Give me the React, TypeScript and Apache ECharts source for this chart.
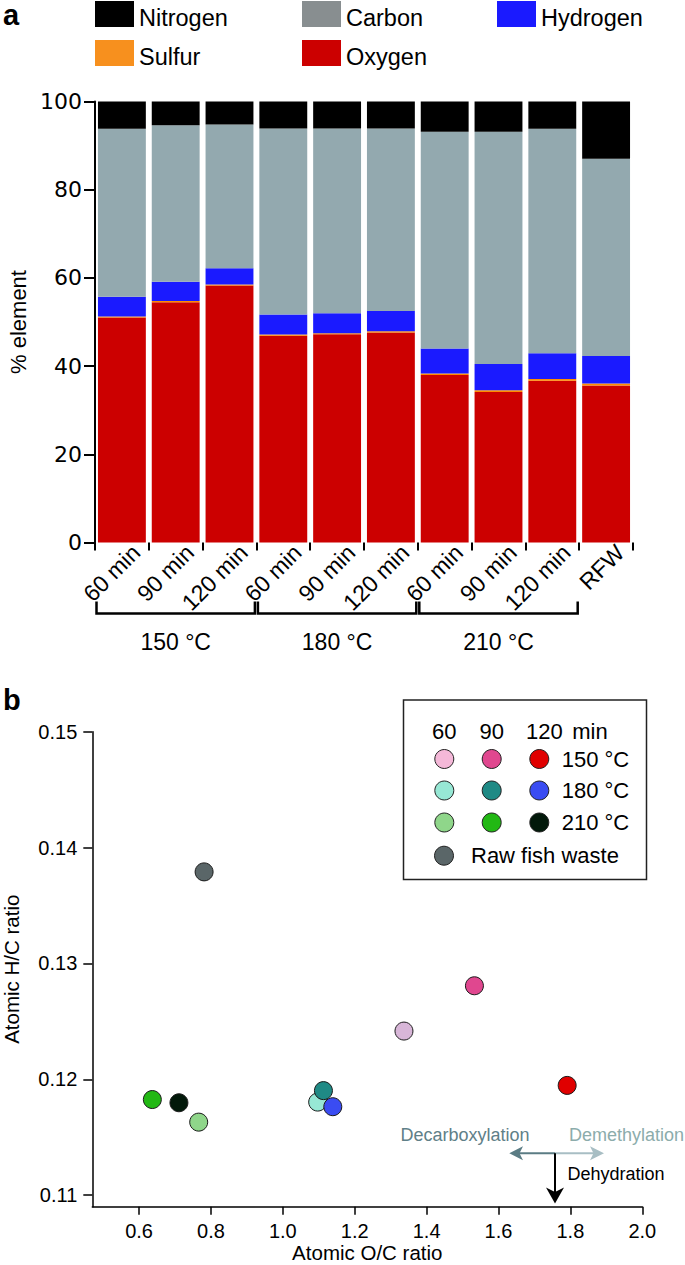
import React, { useEffect, useRef } from 'react';
import * as echarts from 'echarts';

// ---------- Panel a data ----------
const categories = ['60 min', '90 min', '120 min', '60 min', '90 min', '120 min', '60 min', '90 min', '120 min', 'RFW'];
const tempGroups = ['150 °C', '180 °C', '210 °C'];
const groupStart = [0, 3, 6];
const groupEnd = [2, 5, 8];
const oxygen = [51.0, 54.5, 58.3, 46.9, 47.2, 47.6, 38.0, 34.1, 36.7, 35.6];
const sulfur = [0.25, 0.25, 0.2, 0.25, 0.25, 0.3, 0.35, 0.4, 0.4, 0.45];
const hydrogen = [4.45, 4.35, 3.7, 4.55, 4.55, 4.6, 5.65, 6.0, 5.8, 6.25];
const carbon = [38.1, 35.5, 32.6, 42.2, 41.9, 41.4, 49.15, 52.65, 50.9, 44.7];
const nitrogen = [6.2, 5.4, 5.2, 6.1, 6.1, 6.1, 6.85, 6.85, 6.2, 13.0];

// ---------- Panel b data ----------
const sampleNames = ['150 °C 60 min', '150 °C 90 min', '150 °C 120 min', '180 °C 60 min', '180 °C 90 min', '180 °C 120 min', '210 °C 60 min', '210 °C 90 min', '210 °C 120 min', 'Raw fish waste'];
const ocRatio = [1.337, 1.533, 1.791, 1.097, 1.113, 1.139, 0.766, 0.637, 0.711, 0.781];
const hcRatio = [0.12416, 0.12807, 0.11947, 0.11803, 0.11902, 0.11763, 0.1163, 0.11825, 0.11797, 0.1379];
const sampleColors = ['#d8b6d8', '#e0478f', '#e00000', '#97e8d5', '#1f8a85', '#3a4cf2', '#8fd68a', '#22b814', '#02190a', '#5a6668'];
const legendColors = ['#f4b8d8', '#e0478f', '#e00000', '#97e8d5', '#1f8a85', '#3a4cf2', '#8fd68a', '#22b814', '#02190a', '#5a6668'];
const xTicksScatter = [0.6, 0.8, 1.0, 1.2, 1.4, 1.6, 1.8, 2.0];
const yTicksScatter = [0.11, 0.12, 0.13, 0.14, 0.15];
const legendTimes = ['60', '90', '120', 'min'];
const legendTemps = ['150 °C', '180 °C', '210 °C'];

const FONT = "'Liberation Sans', Arial, sans-serif";

function txt(text: string, x: number, y: number, opts: any = {}) {
  const align = opts.align || 'left';
  return {
    type: 'text',
    silent: true,
    style: {
      text,
      x,
      y,
      fill: opts.fill || '#000',
      fontSize: opts.fontSize || 22,
      fontFamily: FONT,
      fontWeight: opts.fontWeight || 'normal',
      align,
      textAlign: align,
      verticalAlign: 'middle',
      textVerticalAlign: 'middle',
    },
  };
}

export default function App() {
  const ref = useRef<HTMLDivElement>(null);
  useEffect(() => {
    if (!ref.current) return;
    const chart = echarts.init(ref.current, undefined, { renderer: 'svg' });

    const graphics: any[] = [];
    graphics.push(txt('a', 3, 15, { fontSize: 29, fontWeight: 'bold' }));
    graphics.push(txt('b', 3, 700, { fontSize: 29, fontWeight: 'bold' }));

    // scatter legend box
    graphics.push({
      type: 'rect', silent: true,
      shape: { x: 403.5, y: 700, width: 243, height: 179.5 },
      style: { fill: '#fff', stroke: '#222', lineWidth: 1.5 },
    });
    const colX = [444.3, 491.7, 539.3];
    const headX = [444.3, 491.7, 544.3, 590];
    legendTimes.forEach((t, i) => graphics.push(txt(t, headX[i], 731, { align: 'center' })));
    const rowY = [759, 790.5, 822.5];
    legendTemps.forEach((t, r) => {
      for (let c = 0; c < 3; c++) {
        graphics.push({
          type: 'circle', silent: true,
          shape: { cx: colX[c], cy: rowY[r], r: 9.5 },
          style: { fill: legendColors[r * 3 + c], stroke: '#222', lineWidth: 1 },
        });
      }
      graphics.push(txt(t, 561.7, rowY[r]));
    });
    graphics.push({
      type: 'circle', silent: true,
      shape: { cx: 444, cy: 855.7, r: 9.5 },
      style: { fill: legendColors[9], stroke: '#222', lineWidth: 1 },
    });
    graphics.push(txt(sampleNames[9], 471, 855.7));

    // reaction arrows
    const ay = 1153.3, ax = 555;
    graphics.push({ type: 'line', silent: true, shape: { x1: ax, y1: ay, x2: 519, y2: ay }, style: { stroke: '#5b7c84', lineWidth: 2 } });
    graphics.push({ type: 'polygon', silent: true, shape: { points: [[509.3, ay], [523, ay - 7], [519.5, ay], [523, ay + 7]] }, style: { fill: '#5b7c84' } });
    graphics.push({ type: 'line', silent: true, shape: { x1: ax, y1: ay, x2: 594, y2: ay }, style: { stroke: '#a8bec4', lineWidth: 2 } });
    graphics.push({ type: 'polygon', silent: true, shape: { points: [[604, ay], [590, ay - 7], [593.5, ay], [590, ay + 7]] }, style: { fill: '#a8bec4' } });
    graphics.push({ type: 'line', silent: true, shape: { x1: ax, y1: ay, x2: ax, y2: 1194 }, style: { stroke: '#000', lineWidth: 2 } });
    graphics.push({ type: 'polygon', silent: true, shape: { points: [[ax, 1203.5], [ax - 9, 1187.5], [ax, 1192], [ax + 9, 1187.5]] }, style: { fill: '#000' } });
    graphics.push(txt('Decarboxylation', 400.5, 1135, { fontSize: 18, fill: '#5f8088' }));
    graphics.push(txt('Demethylation', 569, 1135, { fontSize: 18, fill: '#8cacab' }));
    graphics.push(txt('Dehydration', 567.5, 1173.5, { fontSize: 18 }));

    const barSeries = [
      { name: 'Oxygen', data: oxygen, color: '#cc0000' },
      { name: 'Sulfur', data: sulfur, color: '#ff8c00' },
      { name: 'Hydrogen', data: hydrogen, color: '#1a1aff' },
      { name: 'Carbon', data: carbon, color: '#93a9af' },
      { name: 'Nitrogen', data: nitrogen, color: '#000000' },
    ].map((s) => ({
      type: 'bar',
      name: s.name,
      stack: 'total',
      xAxisIndex: 0,
      yAxisIndex: 0,
      barCategoryGap: '11%',
      data: s.data,
      itemStyle: { color: s.color },
      silent: true,
    }));

    // swatch occupies the top 26 of a 34-tall icon box, so the text sits a little lower
    const legendBase = {
      orient: 'vertical',
      padding: 0,
      itemWidth: 39,
      itemHeight: 34,
      itemGap: 5,
      icon: 'path://M0,0H39V26H0Z M0,34H0.01V34.01Z',
      symbolKeepAspect: false,
      selectedMode: false,
      textStyle: { fontSize: 23.5, fontFamily: FONT, color: '#000', lineHeight: 26 },
    };

    const option: any = {
      animation: false,
      backgroundColor: '#fff',
      textStyle: { fontFamily: FONT },
      legend: [
        { ...legendBase, left: 95, top: 1, data: [{ name: 'Nitrogen' }, { name: 'Sulfur', itemStyle: { color: '#f7901e' } }] },
        { ...legendBase, left: 302, top: 1, data: [{ name: 'Carbon', itemStyle: { color: '#888e90' } }, { name: 'Oxygen' }] },
        { ...legendBase, left: 497, top: 1, data: [{ name: 'Hydrogen' }] },
      ],
      grid: [
        { left: 95, top: 101.5, width: 538, height: 441, containLabel: false, outerBoundsMode: 'none' },
        { left: 92.3, top: 731.7, width: 550, height: 475, containLabel: false, outerBoundsMode: 'none' },
      ],
      xAxis: [
        {
          type: 'category',
          gridIndex: 0,
          data: categories,
          offset: 4,
          axisLine: { show: false },
          axisTick: { show: true, length: 8, lineStyle: { color: '#000', width: 2 } },
          axisLabel: {
            interval: 0,
            rotate: 45,
            fontSize: 23,
            fontFamily: FONT,
            color: '#000',
            margin: -12,
            verticalAlign: 'top',
            lineHeight: 40,
          },
          splitLine: { show: false },
        },
        {
          type: 'value',
          gridIndex: 1,
          min: 0.47,
          max: 2.0,
          axisLine: { show: true, onZero: false, lineStyle: { color: '#000', width: 1.5 } },
          axisTick: { show: true, length: 8, customValues: xTicksScatter, lineStyle: { color: '#000', width: 1.5 } },
          axisLabel: {
            customValues: xTicksScatter,
            formatter: (v: number) => v.toFixed(1),
            fontSize: 20,
            fontFamily: FONT,
            color: '#000',
            margin: 14,
          },
          splitLine: { show: false },
          name: 'Atomic O/C ratio',
          nameLocation: 'middle',
          nameGap: 35,
          nameTextStyle: { fontSize: 20.5, fontFamily: FONT, color: '#000', lineHeight: 21 },
        },
      ],
      yAxis: [
        {
          type: 'value',
          gridIndex: 0,
          min: 0,
          max: 100,
          interval: 20,
          axisLine: { show: true, lineStyle: { color: '#000', width: 2 } },
          axisTick: { show: true, length: 11, lineStyle: { color: '#000', width: 2 } },
          axisLabel: { fontSize: 22, fontFamily: "'DejaVu Sans', sans-serif", color: '#000', margin: 13 },
          splitLine: { show: false },
          name: '% element',
          nameLocation: 'middle',
          nameGap: 62,
          nameTextStyle: { fontSize: 22, fontFamily: FONT, color: '#000' },
        },
        {
          type: 'value',
          gridIndex: 1,
          min: 0.109,
          max: 0.15,
          axisLine: { show: true, onZero: false, lineStyle: { color: '#000', width: 1.5 } },
          axisTick: { show: true, length: 9, customValues: yTicksScatter, lineStyle: { color: '#000', width: 1.5 } },
          axisLabel: {
            customValues: yTicksScatter,
            formatter: (v: number) => v.toFixed(2),
            fontSize: 20,
            fontFamily: FONT,
            color: '#000',
            margin: 15,
          },
          splitLine: { show: false },
          name: 'Atomic H/C ratio',
          nameLocation: 'middle',
          nameGap: 70,
          nameTextStyle: { fontSize: 20.5, fontFamily: FONT, color: '#000' },
        },
      ],
      series: [
        ...barSeries,
        {
          type: 'custom',
          xAxisIndex: 0,
          yAxisIndex: 0,
          clip: false,
          silent: true,
          data: groupStart.map((s, i) => [s, groupEnd[i]]),
          renderItem: (params: any, api: any) => {
            const s = api.value(0);
            const e = api.value(1);
            const p0 = api.coord([s, 0]);
            const p1 = api.coord([e, 0]);
            const bw = api.size([1, 0])[0];
            const x0 = p0[0] - bw / 2 + 1.5;
            const x1 = p1[0] + bw / 2 - 1.5;
            const y = p0[1] + 71;
            return {
              type: 'group',
              children: [
                {
                  type: 'polyline',
                  shape: { points: [[x0, y - 12], [x0, y], [x1, y], [x1, y - 12]] },
                  style: { stroke: '#000', lineWidth: 2.5, fill: 'none' },
                },
                {
                  type: 'text',
                  style: {
                    text: tempGroups[params.dataIndex],
                    x: (x0 + x1) / 2,
                    y: y + 28,
                    align: 'center',
                    verticalAlign: 'middle',
                    fontSize: 23,
                    fontFamily: FONT,
                    fill: '#000',
                  },
                },
              ],
            };
          },
        },
        {
          type: 'scatter',
          name: 'samples',
          xAxisIndex: 1,
          yAxisIndex: 1,
          symbolSize: 18,
          silent: true,
          data: ocRatio.map((x, i) => ({
            name: sampleNames[i],
            value: [x, hcRatio[i]],
            itemStyle: { color: sampleColors[i] },
          })),
          itemStyle: { borderColor: '#1a1a1a', borderWidth: 1, opacity: 1 },
        },
      ],
      graphic: graphics,
    };

    chart.setOption(option);
    return () => chart.dispose();
  }, []);

  return (
    <div
      ref={ref}
      style={{ position: 'absolute', left: 0, top: 0, width: 685, height: 1265, background: '#fff' }}
    />
  );
}
